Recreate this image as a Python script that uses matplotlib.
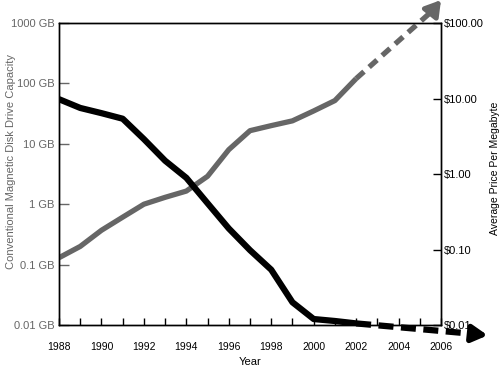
import numpy as np
import matplotlib.pyplot as plt
from matplotlib.ticker import FixedLocator, NullLocator

plt.rcParams['font.family'] = ['Liberation Sans', 'DejaVu Sans']

# Data
years = [1988, 1989, 1990, 1991, 1992, 1993, 1994, 1995,
         1996, 1997, 1998, 1999, 2000, 2001, 2002]
capacity_gb = [0.13, 0.2, 0.37, 0.61, 1.0, 1.3, 1.65, 2.9,
               8.0, 16.5, 20, 24, 35, 52, 120]
price_per_mb = [9.8, 7.5, 6.4, 5.4, 2.9, 1.5, 0.89, 0.41,
                0.19, 0.098, 0.054, 0.020, 0.012, 0.0113, 0.0105]

# Projections (dashed, with arrows)
cap_proj_years = [2002, 2005.6, 2006]
cap_proj = [120, 1600, 2400]
price_proj_years = [2002, 2007.6, 2008.2]
price_proj = [0.0105, 0.0076, 0.0073]

year_ticks = list(range(1988, 2007))
year_labels = [str(y) if y % 2 == 0 else '' for y in year_ticks]
cap_ticks = [0.01, 0.1, 1, 10, 100, 1000]
cap_labels = ['0.01 GB', '0.1 GB', '1 GB', '10 GB', '100 GB', '1000 GB']
price_ticks = [0.01, 0.1, 1, 10, 100]
price_labels = ['$0.01', '$0.10', '$1.00', '$10.00', '$100.00']

gray = '#666666'

fig = plt.figure(figsize=(5, 3.7), dpi=100)
ax = fig.add_axes([0.118, 0.1216, 0.764, 0.8162])
ax2 = ax.twinx()

# capacity (left axis)
ax.plot(years, capacity_gb, color=gray, lw=3.8, solid_capstyle='butt', zorder=3)
ax.plot(cap_proj_years[:2], cap_proj[:2],
        color=gray, lw=3.8, dashes=(2.0, 1.3), clip_on=False, zorder=3)
ax.annotate('', xy=(cap_proj_years[2], cap_proj[2]), xytext=(cap_proj_years[1], cap_proj[1]),
            arrowprops=dict(arrowstyle='-|>,head_length=0.9,head_width=0.55',
                            color=gray, lw=3.5, shrinkA=0, shrinkB=0),
            annotation_clip=False)
ax.set_yscale('log')
ax.set_ylim(0.01, 1000)
ax.set_xlim(1988, 2006)
ax.yaxis.set_major_locator(FixedLocator(cap_ticks))
ax.yaxis.set_minor_locator(NullLocator())
ax.set_yticklabels(cap_labels)
ax.tick_params(axis='y', direction='in', length=7, width=1, colors=gray,
               labelcolor=gray, labelsize=8, pad=3)
ax.set_xticks(year_ticks)
ax.set_xticklabels(year_labels)
ax.tick_params(axis='x', direction='in', length=5, width=1, labelsize=7.5, pad=12)
ax.set_ylabel('Conventional Magnetic Disk Drive Capacity', color=gray, fontsize=8)
ax.yaxis.set_label_coords(-0.112, 0.54)
ax.set_xlabel('Year', fontsize=8)
ax.xaxis.set_label_coords(0.5, -0.105)

# price (right axis)
ax2.plot(years, price_per_mb, color='black', lw=4.5, solid_capstyle='butt', zorder=4)
ax2.plot(price_proj_years[:2], price_proj[:2],
         color='black', lw=4.5, dashes=(2.4, 1.2), clip_on=False, zorder=4)
ax2.annotate('', xy=(price_proj_years[2], price_proj[2]),
             xytext=(price_proj_years[1], price_proj[1]),
             arrowprops=dict(arrowstyle='-|>,head_length=0.9,head_width=0.5',
                             color='black', lw=4, shrinkA=0, shrinkB=0),
             annotation_clip=False)
ax2.set_yscale('log')
ax2.set_ylim(0.01, 100)
ax2.yaxis.set_major_locator(FixedLocator(price_ticks))
ax2.yaxis.set_minor_locator(NullLocator())
ax2.set_yticklabels(price_labels)
ax2.tick_params(axis='y', direction='in', length=6, width=1, labelsize=8, pad=2)
ax2.set_ylabel('Average Price Per Megabyte', fontsize=7.5)
ax2.yaxis.set_label_coords(1.128, 0.52)

for a in (ax, ax2):
    for s in a.spines.values():
        s.set_linewidth(1.0)

fig.savefig('out.png', dpi=100)
